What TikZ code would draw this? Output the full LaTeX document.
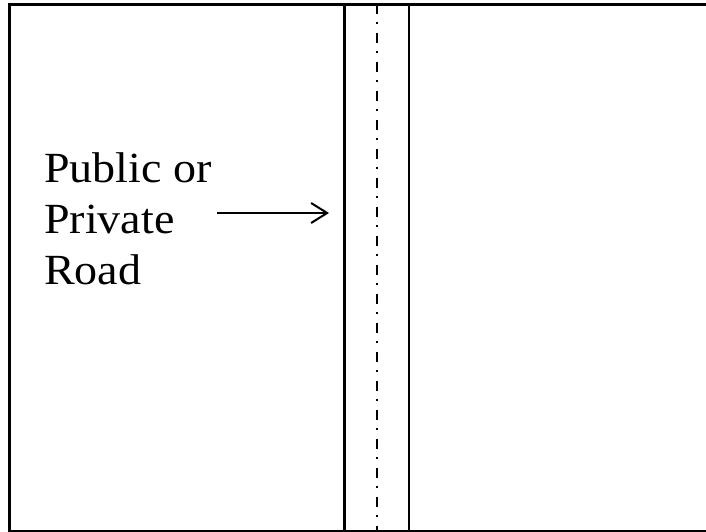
\documentclass[tikz,border=0pt]{standalone}
\usepackage{fontspec}
\setmainfont[FakeStretch=1.07]{Liberation Serif}
\usetikzlibrary{arrows.meta}
\tikzset{
  frame/.style={line width=3pt},
  roadedge/.style={line width=2.5pt},
  centerline/.style={line width=2pt, dash pattern=on 10pt off 8pt on 2pt off 9pt},
  label/.style={anchor=base west, inner sep=0pt, font=\fontsize{43}{51}\selectfont},
  pointer/.style={line width=2pt, -{Straight Barb[length=16pt,width=20pt,line width=2pt]}}
}
\begin{document}
\begin{tikzpicture}[x=1pt,y=-1pt]
\useasboundingbox (0,0) rectangle (706,532);
\fill[white] (0,0) rectangle (706,532);
\draw[frame] (9.5,5) rectangle (712,531.5);
\coordinate (rl1) at (344.5,5);
\coordinate (rl2) at (344.5,532);
\coordinate (rr1) at (409,5);
\coordinate (rr2) at (409,532);
\coordinate (c1) at (377,4);
\coordinate (c2) at (377,532);
\draw[roadedge] (rl1) -- (rl2);
\draw[roadedge] (rr1) -- (rr2);
\draw[centerline] (c1) -- (c2);
\node[label] (t1) at (44,182.5) {Public or};
\node[label] (t2) at (44,233.5) {Private};
\node[label] (t3) at (44,284.5) {Road};
\coordinate (a1) at (217,213);
\coordinate (a2) at (329,213);
\draw[pointer] (a1) -- (a2);
\end{tikzpicture}
\end{document}
